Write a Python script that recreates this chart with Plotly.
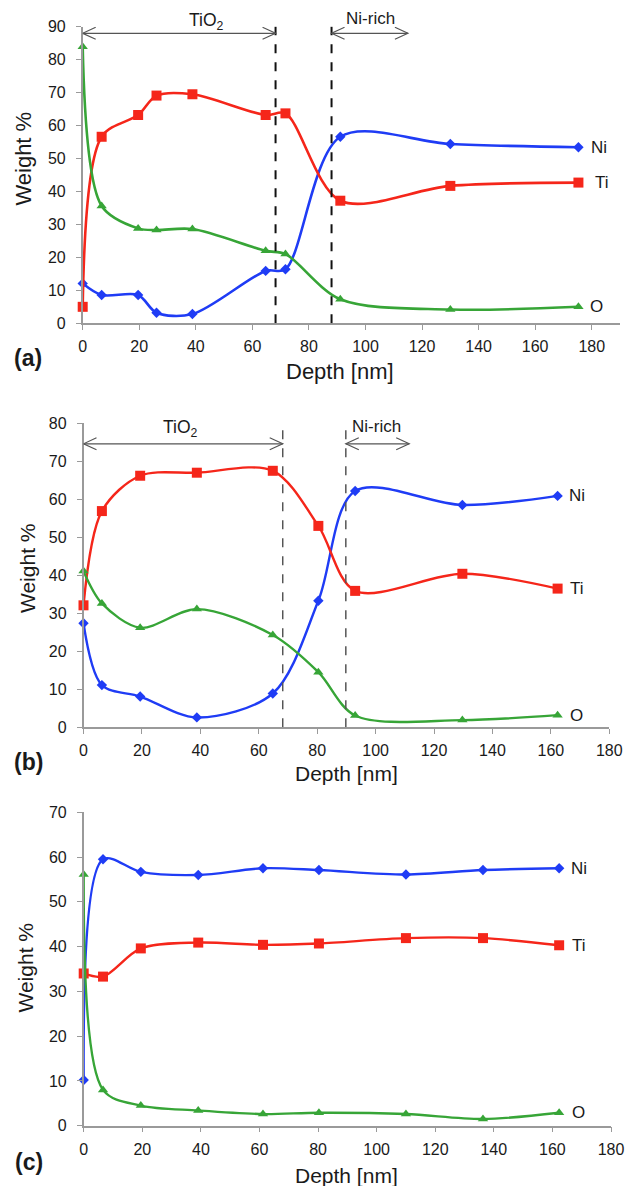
import plotly.graph_objects as go

# ---------------- data ----------------
depth_a = [0, 6.7, 19.6, 26.1, 38.8, 64.7, 71.7, 91.1, 130.0, 175.3]
ni_a = [12.1, 8.6, 8.6, 3.2, 2.8, 15.9, 16.4, 56.6, 54.4, 53.4]
ti_a = [5.0, 56.6, 63.2, 69.1, 69.5, 63.2, 63.7, 37.2, 41.7, 42.7]
o_a = [83.9, 35.6, 28.8, 28.3, 28.6, 22.0, 21.0, 7.3, 4.2, 5.0]

depth_b = [0, 6.3, 19.4, 38.8, 64.8, 80.4, 93.0, 129.7, 162.3]
ni_b = [27.4, 11.1, 8.1, 2.6, 8.9, 33.3, 62.2, 58.5, 60.9]
ti_b = [32.1, 56.9, 66.2, 67.0, 67.5, 53.0, 35.9, 40.4, 36.5]
o_b = [41.1, 32.6, 26.2, 31.1, 24.3, 14.5, 3.1, 1.9, 3.2]

depth_c = [0, 6.6, 19.5, 39.1, 61.2, 80.3, 110.0, 136.3, 162.3]
ni_c = [10.2, 59.5, 56.7, 56.0, 57.5, 57.1, 56.1, 57.1, 57.5]
ti_c = [34.0, 33.3, 39.6, 40.9, 40.4, 40.7, 41.9, 41.9, 40.3]
o_c = [56.1, 8.0, 4.5, 3.4, 2.6, 2.9, 2.6, 1.5, 2.9]

panel_labels = ["(a)", "(b)", "(c)"]
elements = ["Ni", "Ti", "O"]
x_title = "Depth [nm]"
y_title = "Weight %"
region_labels = ["TiO<sub>2</sub>", "Ni-rich"]

# boundaries (dashed lines) and regions
bounds_a = [68.2, 88.0]
bounds_b = [68.2, 89.8]

# ---------------- style ----------------
FONT = "Liberation Sans, Arial, sans-serif"
BLUE = "#1f3cf5"
RED = "#f5261a"
GREEN = "#37a537"
AXC = "#9a9a9a"
TXT = "#1a1a1a"
W, H = 628, 1186

def px(xp):
    return xp / W

def py(yp):
    return 1 - yp / H

fig = go.Figure()

panels = [
    dict(x=depth_a, ni=ni_a, ti=ti_a, o=o_a, xr=[0, 190], yr=[0, 90], ydt=10,
         xd=[82.7, 620], yd=[323.3, 26.7], lw=2.6),
    dict(x=depth_b, ni=ni_b, ti=ti_b, o=o_b, xr=[0, 180], yr=[0, 80], ydt=10,
         xd=[83.5, 609.3], yd=[727.3, 423.3], lw=2.4),
    dict(x=depth_c, ni=ni_c, ti=ti_c, o=o_c, xr=[0, 180], yr=[0, 70], ydt=10,
         xd=[83.7, 611], yd=[1125.7, 812.3], lw=2.4),
]

layout = dict(
    width=W, height=H, margin=dict(l=0, r=0, t=0, b=0),
    paper_bgcolor="white", plot_bgcolor="white",
    showlegend=False, font=dict(family=FONT, color=TXT),
)

annotations = []
shapes = []

for i, p in enumerate(panels):
    sfx = "" if i == 0 else str(i + 1)
    xa, ya = "x" + sfx, "y" + sfx
    series = [
        (p["ni"], BLUE, "diamond", 8),
        (p["ti"], RED, "square", 10),
        (p["o"], GREEN, "triangle-up", 9),
    ]
    for vals, col, sym, ms in series:
        fig.add_trace(go.Scatter(
            x=p["x"], y=vals, mode="lines+markers", xaxis=xa, yaxis=ya,
            line=dict(color=col, width=p["lw"], shape="spline", smoothing=0.9),
            marker=dict(symbol=sym, size=ms, color=col),
            cliponaxis=False,
        ))
    layout["xaxis" + sfx] = dict(
        domain=[px(p["xd"][0]), px(p["xd"][1])], range=p["xr"], anchor=ya,
        tick0=0, dtick=20, showgrid=False, zeroline=False,
        showline=True, linecolor=AXC, linewidth=1.5,
        ticks="outside", ticklen=5, tickcolor=AXC, tickwidth=1.2,
        tickfont=dict(size=16, family=FONT, color=TXT),
        ticklabelstandoff=3, automargin=False,
    )
    layout["yaxis" + sfx] = dict(
        domain=[py(p["yd"][0]), py(p["yd"][1])], range=p["yr"], anchor=xa,
        tick0=0, dtick=p["ydt"], showgrid=False, zeroline=False,
        showline=True, linecolor=AXC, linewidth=1.5,
        ticks="outside", ticklen=5, tickcolor=AXC, tickwidth=1.2,
        tickfont=dict(size=16, family=FONT, color=TXT),
        ticklabelstandoff=7, automargin=False,
    )
    # element labels at right
    lab_x = [179, 180.6, 178.8] if i == 0 else [165.5, 166, 166]
    for el, vals, lx in zip(elements, [p["ni"], p["ti"], p["o"]], lab_x):
        annotations.append(dict(
            x=lx, y=vals[-1], xref=xa, yref=ya, text=el, showarrow=False,
            xanchor="left", yanchor="middle",
            font=dict(size=17, family=FONT, color=TXT),
        ))

# axis titles and panel labels (pixel positions)
title_pos = [
    dict(xt=340, yt=371.7, yx=23.3, yy=158.3, lx=28, ly=358.3, fs=22),
    dict(xt=346.7, yt=773, yx=27, yy=568, lx=29, ly=761.7, fs=21),
    dict(xt=346, yt=1175, yx=24.5, yy=968, lx=29, ly=1161.7, fs=21),
]
for lab, t in zip(panel_labels, title_pos):
    annotations.append(dict(x=px(t["xt"]), y=py(t["yt"]), xref="paper", yref="paper",
                            text=x_title, showarrow=False, xanchor="center", yanchor="middle",
                            font=dict(size=t["fs"], family=FONT, color=TXT)))
    annotations.append(dict(x=px(t["yx"]), y=py(t["yy"]), xref="paper", yref="paper",
                            text=y_title, showarrow=False, textangle=-90,
                            xanchor="center", yanchor="middle",
                            font=dict(size=t["fs"], family=FONT, color=TXT)))
    annotations.append(dict(x=px(t["lx"]), y=py(t["ly"]), xref="paper", yref="paper",
                            text="<b>" + lab + "</b>", showarrow=False,
                            xanchor="center", yanchor="middle",
                            font=dict(size=23, family=FONT, color=TXT)))

# region markers
regions = [
    dict(xa="x", ya="y", b=bounds_a, top=91.2, arr_y=88.0,
         tio=(206.7, 21.7), nir=(370.0, 18.5),
         ni_end=115.0, dash=dict(color="#111", width=2, dash="dash")),
    dict(xa="x2", ya="y2", b=bounds_b, top=81.4, arr_y=74.6,
         tio=(180.8, 428.3), nir=(376.7, 426.7),
         ni_end=111.5, dash=dict(color="#555", width=1.5, dash="dash")),
]
ARC = "#555555"
for r in regions:
    for bx in r["b"]:
        shapes.append(dict(type="line", xref=r["xa"], yref=r["ya"], x0=bx, x1=bx,
                           y0=0, y1=r["top"], line=r["dash"]))
    segs = [(0, r["b"][0]), (r["b"][1], r["ni_end"])]
    for x0, x1 in segs:
        shapes.append(dict(type="line", xref=r["xa"], yref=r["ya"], x0=x0, x1=x1,
                           y0=r["arr_y"], y1=r["arr_y"], line=dict(color=ARC, width=1.2)))
        shapes.append(dict(type="path", xref=r["xa"], yref=r["ya"], xsizemode="pixel",
                           ysizemode="pixel", xanchor=x0, yanchor=r["arr_y"],
                           path="M 13 6 L 0 0 L 13 -6", line=dict(color=ARC, width=1.2)))
        shapes.append(dict(type="path", xref=r["xa"], yref=r["ya"], xsizemode="pixel",
                           ysizemode="pixel", xanchor=x1, yanchor=r["arr_y"],
                           path="M -13 6 L 0 0 L -13 -6", line=dict(color=ARC, width=1.2)))
    for txt, pos, fs in zip(region_labels, [r["tio"], r["nir"]], [17.5, 17]):
        annotations.append(dict(x=px(pos[0]), y=py(pos[1]), xref="paper", yref="paper",
                                text=txt, showarrow=False, xanchor="center",
                                yanchor="middle", font=dict(size=fs, family=FONT, color=TXT)))

layout["annotations"] = annotations
layout["shapes"] = shapes
fig.update_layout(**layout)
fig.write_html("out.html", config={"displayModeBar": False},
               post_script="document.body.style.margin='0';document.body.style.padding='0';")
